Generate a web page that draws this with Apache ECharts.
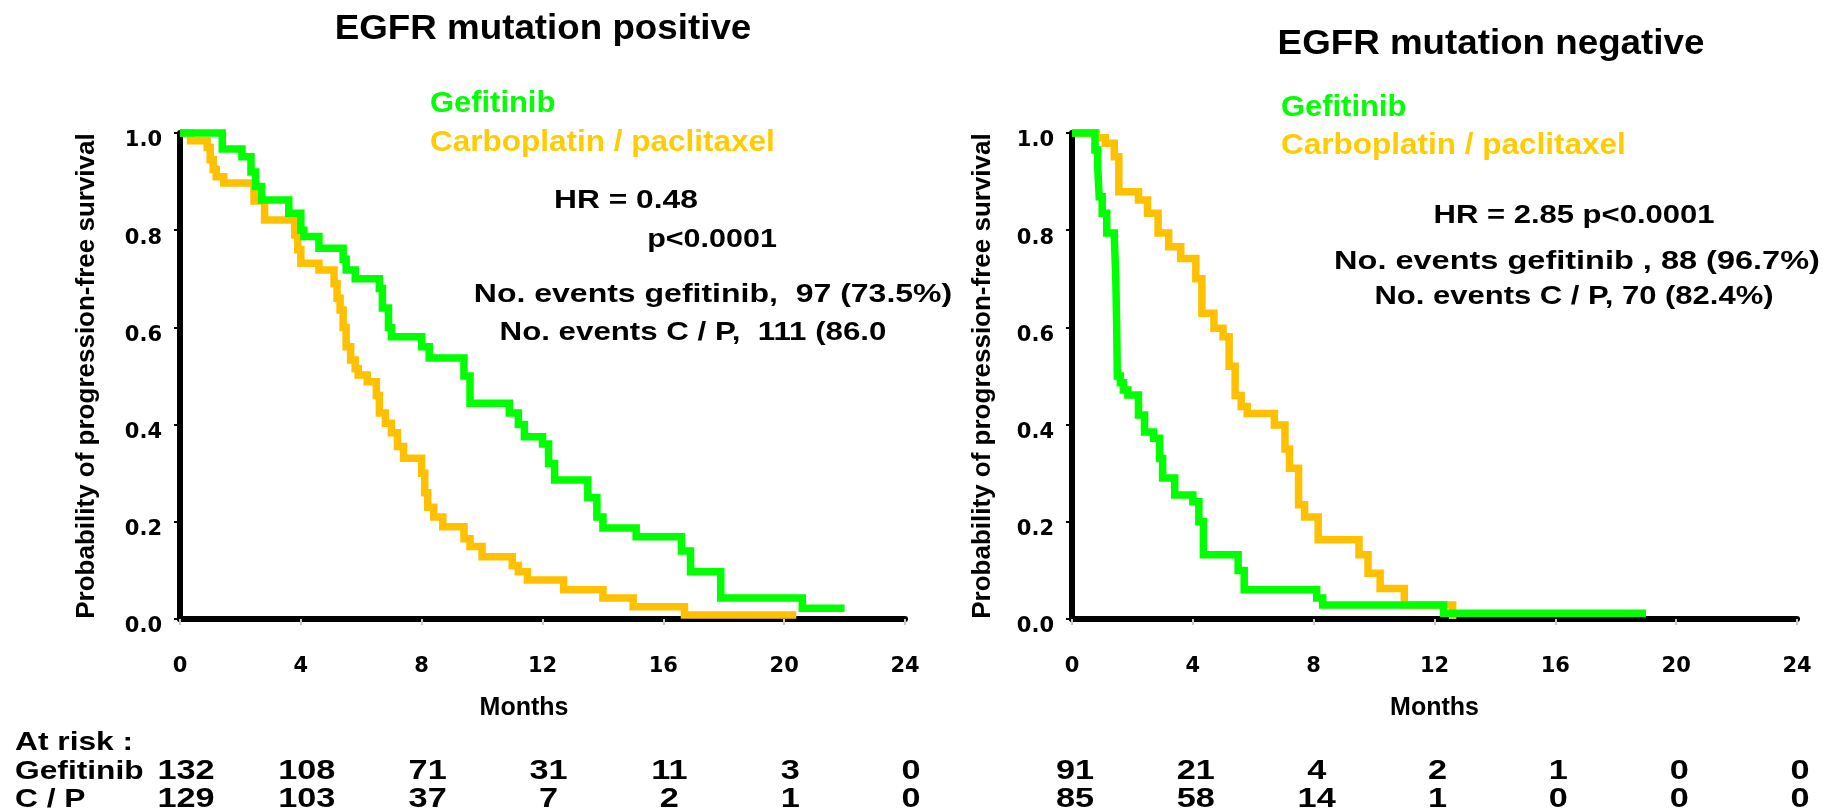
<!DOCTYPE html>
<html>
<head>
<meta charset="utf-8">
<script src="https://cdn.jsdelivr.net/npm/echarts@6/dist/echarts.min.js"></script>
<style>
  html, body { margin: 0; padding: 0; background: #fff; }
  #chart { width: 1822px; height: 812px; }
</style>
</head>
<body>
<div id="chart"></div>
<script>
// Kaplan-Meier progression-free survival, EGFR mutation positive / negative subgroups.
// Each curve: times (months) at which the estimate steps, and the survival after the step.

const monthTicks = [0, 4, 8, 12, 16, 20, 24];

// EGFR mutation positive - gefitinib
const posGefT = [0, 1.4, 2.05, 2.35, 2.5, 2.7, 3.6, 4.0, 4.1, 4.6, 5.4, 5.5, 5.8, 6.6, 6.7, 6.9, 7.0, 8.0, 8.25, 9.4, 9.6, 10.9, 11.2, 11.4, 12.0, 12.2, 12.4, 13.5, 13.8, 14.0, 15.1, 16.6, 16.9, 17.9, 20.6, 22.0];
const posGefS = [1.0, 0.967, 0.951, 0.92, 0.89, 0.862, 0.835, 0.80, 0.787, 0.763, 0.74, 0.718, 0.70, 0.68, 0.64, 0.60, 0.581, 0.56, 0.537, 0.50, 0.444, 0.424, 0.40, 0.375, 0.36, 0.32, 0.286, 0.25, 0.21, 0.187, 0.169, 0.14, 0.097, 0.043, 0.022, 0.022];

// EGFR mutation positive - carboplatin / paclitaxel
const posCpT = [0, 0.35, 0.9, 1.0, 1.1, 1.2, 1.45, 2.45, 2.8, 3.8, 3.9, 4.0, 4.6, 5.1, 5.2, 5.3, 5.4, 5.5, 5.65, 5.8, 5.9, 6.2, 6.5, 6.6, 6.8, 7.0, 7.2, 7.4, 8.0, 8.1, 8.2, 8.4, 8.7, 9.4, 9.6, 10.0, 11.0, 11.2, 11.5, 12.7, 14.0, 15.0, 16.7, 20.4];
const posCpS = [1.0, 0.984, 0.97, 0.945, 0.925, 0.91, 0.897, 0.86, 0.821, 0.79, 0.76, 0.732, 0.718, 0.69, 0.66, 0.636, 0.60, 0.56, 0.533, 0.515, 0.502, 0.488, 0.46, 0.424, 0.403, 0.383, 0.355, 0.331, 0.30, 0.26, 0.23, 0.21, 0.19, 0.165, 0.149, 0.128, 0.11, 0.097, 0.08, 0.06, 0.043, 0.025, 0.008, 0.008];

// EGFR mutation negative - gefitinib
const negGefT = [0, 0.76, 0.85, 0.9, 1.0, 1.15, 1.4, 1.45, 1.48, 1.5, 1.6, 1.7, 1.85, 2.2, 2.4, 2.7, 2.9, 3.0, 3.4, 4.0, 4.2, 4.35, 5.5, 5.7, 8.1, 8.3, 12.3, 19.0];
const negGefS = [1.0, 0.965, 0.93, 0.869, 0.835, 0.794, 0.787, 0.70, 0.60, 0.50, 0.486, 0.471, 0.461, 0.42, 0.385, 0.372, 0.33, 0.29, 0.255, 0.241, 0.20, 0.132, 0.10, 0.06, 0.043, 0.029, 0.012, 0.012];

// EGFR mutation negative - carboplatin / paclitaxel
const negCpT = [0, 0.8, 1.1, 1.4, 1.55, 2.2, 2.5, 2.85, 3.2, 3.6, 4.1, 4.3, 4.7, 5.0, 5.2, 5.4, 5.6, 5.8, 6.7, 7.05, 7.2, 7.5, 7.7, 8.15, 9.5, 9.8, 10.2, 11.0, 12.6];
const negCpS = [1.0, 0.99, 0.979, 0.951, 0.879, 0.862, 0.835, 0.794, 0.766, 0.742, 0.70, 0.629, 0.598, 0.581, 0.52, 0.46, 0.437, 0.423, 0.399, 0.35, 0.31, 0.235, 0.21, 0.163, 0.132, 0.094, 0.063, 0.029, 0.0];

// Numbers at risk at each month tick
const posRiskGef = [132, 108, 71, 31, 11, 3, 0];
const posRiskCp = [129, 103, 37, 7, 2, 1, 0];
const negRiskGef = [91, 21, 4, 2, 1, 0, 0];
const negRiskCp = [85, 58, 14, 1, 0, 0, 0];

const GREEN = '#00FF00';
const ORANGE = '#FFC000';
const ORANGE_TEXT = '#FFCC00';
const SANS = '"Liberation Sans", Arial, sans-serif';
const TICK_FONT = { color: '#000', fontFamily: '"DejaVu Sans"', fontWeight: 'bold', fontSize: 21 };

const zip = (t, s) => t.map((v, i) => [v, s[i]]);

const chart = echarts.init(document.getElementById('chart'), null, { renderer: 'canvas' });

function xAxisFor(gi, namePadRight) {
  return {
    gridIndex: gi, type: 'value', min: 0, max: 24, interval: 4,
    axisLine: { show: true, onZero: false, lineStyle: { color: '#000', width: 6 } },
    axisTick: { show: true, length: 6, lineStyle: { color: '#c8c8c8', width: 2 } },
    axisLabel: Object.assign({ margin: 37 }, TICK_FONT),
    splitLine: { show: false },
    name: 'Months', nameLocation: 'middle', nameGap: 77,
    nameTextStyle: { color: '#000', fontFamily: SANS, fontWeight: 'bold', fontSize: 25, padding: [0, namePadRight, 0, 0] }
  };
}

function yAxisFor(gi, gap) {
  return {
    gridIndex: gi, type: 'value', min: 0, max: 1, interval: 0.2,
    axisLine: { show: true, onZero: false, lineStyle: { color: '#000', width: 6 } },
    axisTick: { show: true, length: 6, lineStyle: { color: '#000', width: 2 } },
    axisLabel: Object.assign({
      margin: 18,
      formatter: v => '{v|' + v.toFixed(1) + '}',
      rich: { v: Object.assign({ padding: [16, 0, 0, 0] }, TICK_FONT) }
    }, TICK_FONT),
    splitLine: { show: false },
    name: 'Probability of progression-free survival', nameLocation: 'middle', nameGap: gap, nameRotate: 90,
    nameTextStyle: { color: '#000', fontFamily: SANS, fontWeight: 'bold', fontSize: 26 }
  };
}

function curve(name, xi, data, color, z) {
  return {
    name, type: 'line', xAxisIndex: xi, yAxisIndex: xi, data, step: 'end',
    symbol: 'none', clip: false, z, animation: false,
    lineStyle: { color, width: 7.5, cap: 'butt', join: 'miter' }
  };
}

chart.setOption({
  backgroundColor: '#fff',
  animation: false,
  grid: [
    { left: 180, right: 917, top: 133, bottom: 193, containLabel: false, outerBoundsMode: 'none' },
    { left: 1072, right: 25, top: 133, bottom: 193, containLabel: false, outerBoundsMode: 'none' }
  ],
  xAxis: [xAxisFor(0, 37), xAxisFor(1, 0)],
  yAxis: [yAxisFor(0, 80), yAxisFor(1, 76)],
  series: [
    curve('Carboplatin / paclitaxel', 0, zip(posCpT, posCpS), ORANGE, 3),
    curve('Gefitinib', 0, zip(posGefT, posGefS), GREEN, 4),
    curve('Carboplatin / paclitaxel', 1, zip(negCpT, negCpS), ORANGE, 3),
    curve('Gefitinib', 1, zip(negGefT, negGefS), GREEN, 4)
  ]
});

// Free text: titles, legends, statistics and the at-risk table
function label(x, y, text, size, opts) {
  const o = opts || {};
  const align = o.align || 'center';
  return {
    type: 'text', x, y, scaleX: o.sx || 1, silent: true, z: 10,
    style: {
      text, fill: o.color || '#000',
      font: 'bold ' + size + 'px ' + SANS,
      textAlign: align, textVerticalAlign: 'middle',
      align: align, verticalAlign: 'middle'
    }
  };
}

const STAT = 1.27;   // statistics / table text is set wide
const elements = [
  label(543, 29, 'EGFR mutation positive', 35, { sx: 1.05 }),
  label(1491, 44, 'EGFR mutation negative', 35, { sx: 1.05 }),

  label(430, 104, 'Gefitinib', 30, { align: 'left', color: GREEN, sx: 1.03 }),
  label(430, 143, 'Carboplatin / paclitaxel', 30, { align: 'left', color: ORANGE_TEXT, sx: 1.05 }),
  label(1281, 108, 'Gefitinib', 30, { align: 'left', color: GREEN, sx: 1.03 }),
  label(1281, 146, 'Carboplatin / paclitaxel', 30, { align: 'left', color: ORANGE_TEXT, sx: 1.05 }),

  label(626, 201, 'HR = 0.48', 25, { sx: STAT }),
  label(712, 240, 'p<0.0001', 25, { sx: 1.22 }),
  label(713, 295, 'No. events gefitinib,  97 (73.5%)', 25, { sx: 1.28 }),
  label(693, 333, 'No. events C / P,  111 (86.0', 25, { sx: 1.25 }),

  label(1574, 216, 'HR = 2.85 p<0.0001', 25, { sx: 1.24 }),
  label(1577, 262, 'No. events gefitinib , 88 (96.7%)', 25, { sx: 1.30 }),
  label(1574, 297, 'No. events C / P, 70 (82.4%)', 25, { sx: 1.24 }),

  label(15, 743, 'At risk :', 26, { align: 'left', sx: 1.22 }),
  label(15, 772, 'Gefitinib', 26, { align: 'left', sx: 1.22 }),
  label(15, 800, 'C / P', 26, { align: 'left', sx: 1.22 })
];

function riskRow(axisIndex, values, y, shift) {
  values.forEach((v, i) => {
    const px = chart.convertToPixel({ xAxisIndex: axisIndex }, monthTicks[i]);
    elements.push(label(px + shift, y, String(v), 27, { sx: STAT }));
  });
}
riskRow(0, posRiskGef, 772, 6);
riskRow(0, posRiskCp, 800, 6);
riskRow(1, negRiskGef, 772, 3);
riskRow(1, negRiskCp, 800, 3);

chart.setOption({ graphic: elements });
</script>
</body>
</html>
